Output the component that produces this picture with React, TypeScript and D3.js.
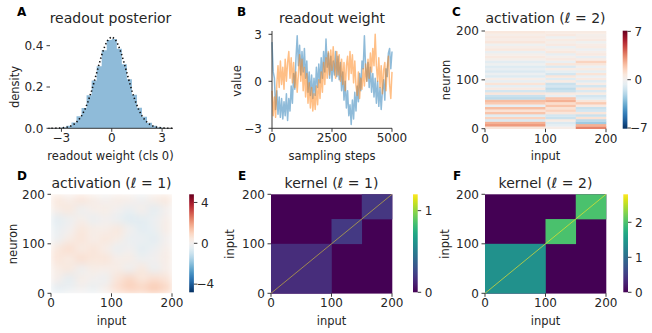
import React from 'react';
import * as d3 from 'd3';

// ---------- A: readout posterior ----------
const histEdges = [-3.6, -3.3, -3.0, -2.7, -2.4, -2.1, -1.8, -1.5, -1.2, -0.9, -0.6, -0.3, 0.0,
  0.3, 0.6, 0.9, 1.2, 1.5, 1.8, 2.1, 2.4, 2.7, 3.0, 3.3, 3.6];
const histDensity = [0.001, 0.002, 0.005, 0.012, 0.028, 0.058, 0.098, 0.16, 0.232, 0.3, 0.378, 0.428,
  0.432, 0.385, 0.31, 0.238, 0.162, 0.1, 0.056, 0.027, 0.012, 0.005, 0.002, 0.001];
const priorX = [-3.6, -3.4, -3.2, -3.0, -2.8, -2.6, -2.4, -2.2, -2.0, -1.8, -1.6, -1.4, -1.2, -1.0, -0.8,
  -0.6, -0.4, -0.2, 0.0, 0.2, 0.4, 0.6, 0.8, 1.0, 1.2, 1.4, 1.6, 1.8, 2.0, 2.2, 2.4, 2.6, 2.8, 3.0, 3.2, 3.4, 3.6];
const priorDensity = [0.0001, 0.0004, 0.0008, 0.0017, 0.0035, 0.0068, 0.0127, 0.0223, 0.0375, 0.06, 0.091,
  0.132, 0.182, 0.239, 0.298, 0.355, 0.401, 0.432, 0.443, 0.432, 0.401, 0.355, 0.298, 0.239, 0.182, 0.132,
  0.091, 0.06, 0.0375, 0.0223, 0.0127, 0.0068, 0.0035, 0.0017, 0.0008, 0.0004, 0.0001];
const histTicks = [-3, 0, 3];
const densityTicks = [0, 0.2, 0.4];

// ---------- B: readout weight traces (one value every 50 steps) ----------
const stepEvery = 50;
const traceBlue = [
  2.5, 0.6, 0.2, -1.8, -0.6, -2.1, -1.0, -2.3, -1.1, -2.4,
  -1.3, -2.2, -0.8, -2.5, -1.1, -1.9, -0.3, -1.4, 0.5, -0.5,
  1.5, 2.9, 1.0, 2.3, 0.4, 1.9, 0.6, 2.1, 0.2, 1.3,
  -0.7, 0.6, -0.9, 0.4, -1.1, 0.2, -0.9, 0.9, -0.4, 1.1,
  -0.1, 1.5, 0.2, 1.9, 0.6, 2.7, 0.9, 1.8, 0.2, 1.6,
  0.0, 1.3, 0.4, 1.9, 0.3, 1.6, 0.1, 1.2, -0.6, 0.6,
  -1.2, 0.0, -1.7, -0.6, -2.2, -1.5, -2.75, -1.2, -2.4, -0.7,
  -1.9, -0.3, -1.3, 0.5, -0.6, 1.3, 0.8, 2.9, 0.9, 0.0,
  1.2, -0.4, 0.9, -0.7, 0.5, -1.0, 0.2, -1.4, 0.0, -1.6,
  -0.4, -1.8, -0.6, 0.1, -1.2, 0.8, 0.3, 1.8, 2.1, 0.8,
  1.9];
const traceOrange = [
  -0.6, -2.2, -1.0, -2.3, -0.2, 1.0, -0.4, 1.3, -0.2, 0.9,
  -0.5, 1.4, 0.0, 1.2, 1.9, 0.2, 1.5, -0.1, 1.2, -0.4,
  0.6, -0.7, 0.5, 1.7, 0.0, 1.4, -0.6, 0.9, -1.0, 0.5,
  -1.4, -0.1, -1.7, -0.4, -1.9, -0.8, -1.8, -0.3, -1.5, 0.1,
  -1.1, 0.6, -0.7, 1.2, -0.2, 1.5, 0.2, 1.9, 0.4, 2.0,
  0.7, 2.2, 0.9, 0.2, 1.9, 0.4, 1.7, 0.0, 1.4, -0.2,
  1.2, -0.6, 1.0, 1.6, 0.1, 1.9, 0.5, 1.7, -0.1, 1.3,
  -0.3, -0.9, 0.6, -1.1, 0.2, -0.5, 0.8, -0.3, 1.1, 0.0,
  1.4, 0.2, 1.8, 0.6, 2.1, 1.0, 3.0, 1.0, 0.0, 1.5,
  -0.4, 1.0, -0.8, 0.7, 1.2, -0.6, 0.9, 1.6, -0.2, -1.1,
  0.6];
const stepTicks = [0, 2500, 5000];
const valueTicks = [-3, 0, 3];

// ---------- C: activation layer 2 (row profiles per input block, 5 neurons per bin, bottom up) ----------
const inputBlockEdges = [0, 100, 150, 200];
const neuronBin = 5;
const actL2In0to100 = [0.8, 3.0, 2.5, -1.0, 1.5, -0.8, 2.0, 1.0, 2.2, -0.5, 1.8, 2.2, -1.8, -1.5, 0.8, -1.2,
  0.6, -0.6, 0.9, -0.5, 0.3, -0.9, -0.3, -1.0, -0.5, -0.9, -0.2, -0.7, 0.2, 0.6, 0.2, -0.4, 0.7, 0.3, -0.2,
  0.8, 0.4, 0.6, 0.3, 0.7];
const actL2In100to150 = [0.3, -0.6, -1.0, 0.5, -1.5, -1.2, 0.8, 1.5, 1.0, 2.0, 1.2, 2.5, 2.0, -0.5, 0.6,
  -1.5, -1.8, -1.2, -1.5, 0.5, -0.8, 0.8, -1.2, -0.6, 0.4, -1.0, 0.8, -0.4, 0.6, 0.2, -0.5, 0.7, 0.3, -0.3,
  0.6, 0.2, 0.5, -0.2, 0.6, 0.5];
const actL2In150to200 = [3.5, 2.5, -2.5, -1.8, 1.0, -1.5, 0.8, -1.2, -1.5, 0.6, 1.8, 0.8, -0.8, -1.2, 0.5,
  -1.0, 0.8, -1.2, 0.4, -0.8, 0.6, -0.4, 0.9, -0.6, 0.5, -0.3, 0.8, 1.5, 0.4, -0.5, 0.6, 0.3, -0.3, 0.5, 0.4,
  -0.2, 0.6, 0.3, 0.2, 0.5];
const actL2Max = 7.1;

// ---------- D: activation layer 1 (20 x 20 cells, rows bottom up) ----------
const cellSize = 20;
const actL1Grid = [
  [-0.5, -0.2, 0.0, -0.3, 0.2, 0.8, 1.1, 1.0, 1.3, 1.0],
  [0.2, -0.5, 0.3, 0.0, -0.2, 0.6, 1.0, 0.5, 0.8, 0.6],
  [0.3, 0.5, -0.2, 0.3, 0.2, 0.3, -0.2, 0.5, -0.3, 0.2],
  [0.6, 0.3, 0.8, 0.5, 0.6, 0.2, 0.3, -0.2, 0.0, 0.3],
  [0.5, 0.8, 0.3, 0.6, 0.2, -0.3, 0.0, -0.5, -0.2, 0.2],
  [-0.2, 0.3, 0.6, 0.2, 0.5, 0.3, -0.3, -0.2, -0.5, 0.0],
  [-0.3, 0.0, 0.5, 0.3, 0.2, 0.5, 0.0, -0.5, -0.3, 0.3],
  [-0.5, -0.2, 0.2, -0.3, 0.0, -0.3, -0.6, -0.5, -0.2, 0.2],
  [0.3, 0.5, -0.2, 0.2, 0.3, 0.0, -0.3, 0.2, -0.5, 0.0],
  [0.5, 0.2, 0.6, 0.3, 0.0, 0.3, 0.2, -0.2, 0.3, 0.5],
];
const actL1Max = 4.8;
const actTicks = [0, 100, 200];

// ---------- E, F: kernels ----------
const kernel1Blocks = [0.15, 0.2, 0.19];
const kernel1Off = 0;
const kernel1Diag = 1.2;
const kernel1Max = 1.2;
const kernel2Blocks = [1.4, 2.0, 2.0];
const kernel2Off = 0;
const kernel2Diag = 2.8;
const kernel2Max = 2.8;

const FONT = "'DejaVu Sans', 'Liberation Sans', sans-serif";
const INK = '#262626';
const TICK = 12;
const LABEL = 11.5;
const TITLE = 14;

const rdbuR = (t: number) => d3.interpolateRdBu(1 - t);

type Lin = d3.ScaleLinear<number, number>;

const fmtNum = (v: number) => String(v).replace('-', '\u2212');

const XTicks = ({ scale, ticks, y }: { scale: Lin; ticks: number[]; y: number }) => (
  <g>
    {ticks.map(t => (
      <g key={t}>
        <line x1={scale(t)} x2={scale(t)} y1={y} y2={y + 3.5} stroke={INK} strokeWidth={0.9} />
        <text x={scale(t)} y={y + 14} textAnchor="middle" fontSize={TICK} fill={INK}>{fmtNum(t)}</text>
      </g>
    ))}
  </g>
);

const YTicks = ({ scale, ticks, x, gap, fmt }: { scale: Lin; ticks: number[]; x: number; gap: number; fmt?: (v: number) => string }) => (
  <g>
    {ticks.map(t => (
      <g key={t}>
        <line x1={x - 3.5} x2={x} y1={scale(t)} y2={scale(t)} stroke={INK} strokeWidth={0.9} />
        <text x={x - gap} y={scale(t)} dy="0.36em" textAnchor="end" fontSize={TICK} fill={INK}>
          {fmt ? fmt(t) : fmtNum(t)}
        </text>
      </g>
    ))}
  </g>
);

const Colorbar = ({ id, x, scale, interp, ticks }: { id: string; x: number; scale: Lin; interp: (t: number) => string; ticks: number[] }) => {
  const [r0, r1] = scale.range();
  const w = 4.7;
  const stops = d3.range(0, 1.0001, 0.05);
  return (
    <g>
      <defs>
        <linearGradient id={id} x1="0" y1="1" x2="0" y2="0">
          {stops.map(s => <stop key={s} offset={s} stopColor={interp(s)} />)}
        </linearGradient>
      </defs>
      <rect x={x} y={r1} width={w} height={r0 - r1} fill={`url(#${id})`} />
      {ticks.map(t => (
        <g key={t}>
          <line x1={x + w} x2={x + w + 3.5} y1={scale(t)} y2={scale(t)} stroke={INK} strokeWidth={0.9} />
          <text x={x + w + (t < 0 ? 2.5 : 7)} y={scale(t)} dy="0.36em" fontSize={TICK} fill={INK}>{fmtNum(t)}</text>
        </g>
      ))}
    </g>
  );
};

const PanelLetter = ({ x, y, s }: { x: number; y: number; s: string }) => (
  <text x={x} y={y} fontSize={12} fontWeight="bold" fill="#000">{s}</text>
);

const Title = ({ x, y, children }: { x: number; y: number; children: React.ReactNode }) => (
  <text x={x} y={y} textAnchor="middle" fontSize={TITLE} fill={INK}>{children}</text>
);

const YLabel = ({ x, y, s }: { x: number; y: number; s: string }) => (
  <text transform={`translate(${x},${y}) rotate(-90)`} textAnchor="middle" fontSize={LABEL} fill={INK}>{s}</text>
);

const XLabel = ({ x, y, s }: { x: number; y: number; s: string }) => (
  <text x={x} y={y} textAnchor="middle" fontSize={LABEL} fill={INK}>{s}</text>
);

const Ell = ({ n }: { n: number }) => (
  <>
    (<tspan fontStyle="italic">ℓ</tspan> = {n})
  </>
);

type Cell = { c0: number; c1: number; r0: number; r1: number; v: number };

const Cells = ({ cells, xs, ys, color }: { cells: Cell[]; xs: Lin; ys: Lin; color: (v: number) => string }) => (
  <g>
    {cells.map((c, i) => (
      <rect
        key={i}
        x={xs(c.c0)}
        y={ys(c.r1)}
        width={xs(c.c1) - xs(c.c0) + 0.3}
        height={ys(c.r0) - ys(c.r1) + 0.3}
        fill={color(c.v)}
      />
    ))}
  </g>
);

const HeatTicks = ({ xs, ys }: { xs: Lin; ys: Lin }) => (
  <g>
    <XTicks scale={xs} ticks={actTicks} y={ys(0)} />
    <YTicks scale={ys} ticks={actTicks} x={xs(0)} gap={6} />
  </g>
);

export default function App() {
  // A
  const ax = d3.scaleLinear().domain([-3.8, 3.65]).range([48, 173]);
  const ay = d3.scaleLinear().domain([0, 0.4]).range([128.3, 45.7]);
  const histPts = histEdges.map((e, i) => [e, histDensity[Math.min(i, histDensity.length - 1)]] as [number, number]);
  const histArea = d3.area<[number, number]>()
    .x(d => ax(d[0]))
    .y0(ay(0))
    .y1(d => ay(d[1]))
    .curve(d3.curveStepAfter)(histPts) || '';
  const priorLine = d3.line<number>()
    .x((_, i) => ax(priorX[i]))
    .y(d => ay(d))(priorDensity) || '';

  // B
  const bx = d3.scaleLinear().domain([0, 5000]).range([272, 392]);
  const by = d3.scaleLinear().domain([-3, 3]).range([128.3, 34.3]);
  const traceLine = d3.line<number>().x((_, i) => bx(i * stepEvery)).y(d => by(d));

  // C
  const cx = d3.scaleLinear().domain([0, 200]).range([485, 606]);
  const cy = d3.scaleLinear().domain([0, 200]).range([128.7, 31]);
  const cCells: Cell[] = [actL2In0to100, actL2In100to150, actL2In150to200].flatMap((col, b) =>
    col.map((v, r) => ({ c0: inputBlockEdges[b], c1: inputBlockEdges[b + 1], r0: r * neuronBin, r1: (r + 1) * neuronBin, v })));
  const cColor = (v: number) => rdbuR((v + actL2Max) / (2 * actL2Max));
  const cBar = d3.scaleLinear().domain([-actL2Max, actL2Max]).range([128.7, 30.7]);

  // D
  const dx = d3.scaleLinear().domain([0, 200]).range([51, 172]);
  const dy = d3.scaleLinear().domain([0, 200]).range([293.3, 194.3]);
  const dCells: Cell[] = actL1Grid.flatMap((row, r) =>
    row.map((v, c) => ({ c0: c * cellSize, c1: (c + 1) * cellSize, r0: r * cellSize, r1: (r + 1) * cellSize, v })));
  const dColor = (v: number) => rdbuR((v + actL1Max) / (2 * actL1Max));
  const dBar = d3.scaleLinear().domain([-actL1Max, actL1Max]).range([292.3, 194.3]);

  // E, F
  const ex = d3.scaleLinear().domain([0, 200]).range([271, 392]);
  const fx = d3.scaleLinear().domain([0, 200]).range([485, 606]);
  const ky = d3.scaleLinear().domain([0, 200]).range([293.3, 194.3]);
  const kernelCells = (blocks: number[], off: number): Cell[] => [
    { c0: 0, c1: 200, r0: 0, r1: 200, v: off },
    ...blocks.map((v, b) => ({ c0: inputBlockEdges[b], c1: inputBlockEdges[b + 1], r0: inputBlockEdges[b], r1: inputBlockEdges[b + 1], v })),
  ];
  const eColor = (v: number) => d3.interpolateViridis(v / kernel1Max);
  const fColor = (v: number) => d3.interpolateViridis(v / kernel2Max);
  const eBar = d3.scaleLinear().domain([0, kernel1Max]).range([292.3, 194.3]);
  const fBar = d3.scaleLinear().domain([0, kernel2Max]).range([292.3, 194.3]);

  return (
    <svg width={652} height={333} style={{ position: 'absolute', left: 0, top: 0, background: '#fff' }}
      fontFamily={FONT}>
      <defs>
        <clipPath id="clipD">
          <rect x={dx(0)} y={dy(200)} width={dx(200) - dx(0)} height={dy(0) - dy(200)} />
        </clipPath>
        <filter id="softD" x="0" y="0" width="1" height="1">
          <feGaussianBlur stdDeviation="4" edgeMode="duplicate" />
        </filter>
      </defs>

      {/* A */}
      <PanelLetter x={17} y={16} s="A" />
      <Title x={110.5} y={23}>readout posterior</Title>
      <path d={histArea} fill="#1f77b4" fillOpacity={0.5} />
      <path d={priorLine} fill="none" stroke="#111" strokeWidth={1.6} strokeDasharray="1.4 2.4" />
      <line x1={48} x2={173} y1={ay(0)} y2={ay(0)} stroke={INK} strokeWidth={0.9} />
      <XTicks scale={ax} ticks={histTicks} y={ay(0)} />
      <YTicks scale={ay} ticks={densityTicks} x={50} gap={6.5} fmt={v => d3.format('.1f')(v)} />
      <YLabel x={19} y={87} s="density" />
      <XLabel x={110.5} y={159.5} s="readout weight (cls 0)" />

      {/* B */}
      <PanelLetter x={237} y={16} s="B" />
      <Title x={332} y={23}>readout weight</Title>
      <path d={traceLine(traceBlue) || ''} fill="none" stroke="#1f77b4" strokeOpacity={0.5} strokeWidth={1.5} strokeLinejoin="round" />
      <path d={traceLine(traceOrange) || ''} fill="none" stroke="#ff7f0e" strokeOpacity={0.5} strokeWidth={1.5} strokeLinejoin="round" />
      <line x1={272} x2={272} y1={31} y2={128.3} stroke={INK} strokeWidth={0.9} />
      <line x1={272} x2={392} y1={128.3} y2={128.3} stroke={INK} strokeWidth={0.9} />
      <XTicks scale={bx} ticks={stepTicks} y={128.3} />
      <YTicks scale={by} ticks={valueTicks} x={272} gap={10} />
      <YLabel x={240.5} y={81} s="value" />
      <XLabel x={332} y={159.5} s="sampling steps" />

      {/* C */}
      <PanelLetter x={452} y={16} s="C" />
      <Title x={545.5} y={23}>activation <Ell n={2} /></Title>
      <Cells cells={cCells} xs={cx} ys={cy} color={cColor} />
      <HeatTicks xs={cx} ys={cy} />
      <Colorbar id="cbC" x={622.7} scale={cBar} interp={rdbuR} ticks={[-7, 0, 7]} />
      <YLabel x={449.5} y={80} s="neuron" />
      <XLabel x={545.5} y={159.5} s="input" />

      {/* D */}
      <PanelLetter x={17} y={180} s="D" />
      <Title x={111.5} y={187.5}>activation <Ell n={1} /></Title>
      <g clipPath="url(#clipD)">
        <g filter="url(#softD)">
          <Cells cells={dCells} xs={dx} ys={dy} color={dColor} />
        </g>
      </g>
      <HeatTicks xs={dx} ys={dy} />
      <Colorbar id="cbD" x={189.2} scale={dBar} interp={rdbuR} ticks={[-4, 0, 4]} />
      <YLabel x={16.5} y={244} s="neuron" />
      <XLabel x={111.5} y={324.5} s="input" />

      {/* E */}
      <PanelLetter x={238} y={180} s="E" />
      <Title x={331.5} y={187.5}>kernel <Ell n={1} /></Title>
      <Cells cells={kernelCells(kernel1Blocks, kernel1Off)} xs={ex} ys={ky} color={eColor} />
      <line x1={ex(0)} y1={ky(0)} x2={ex(200)} y2={ky(200)} stroke={eColor(kernel1Diag)} strokeOpacity={0.55} strokeWidth={0.9} />
      <HeatTicks xs={ex} ys={ky} />
      <Colorbar id="cbE" x={413} scale={eBar} interp={d3.interpolateViridis} ticks={[0, 1]} />
      <YLabel x={234} y={244} s="input" />
      <XLabel x={331.5} y={324.5} s="input" />

      {/* F */}
      <PanelLetter x={453} y={180} s="F" />
      <Title x={545.5} y={187.5}>kernel <Ell n={2} /></Title>
      <Cells cells={kernelCells(kernel2Blocks, kernel2Off)} xs={fx} ys={ky} color={fColor} />
      <line x1={fx(0)} y1={ky(0)} x2={fx(200)} y2={ky(200)} stroke={fColor(kernel2Diag)} strokeOpacity={0.7} strokeWidth={0.9} />
      <HeatTicks xs={fx} ys={ky} />
      <Colorbar id="cbF" x={623.3} scale={fBar} interp={d3.interpolateViridis} ticks={[0, 1, 2]} />
      <YLabel x={449} y={244} s="input" />
      <XLabel x={545.5} y={324.5} s="input" />
    </svg>
  );
}
